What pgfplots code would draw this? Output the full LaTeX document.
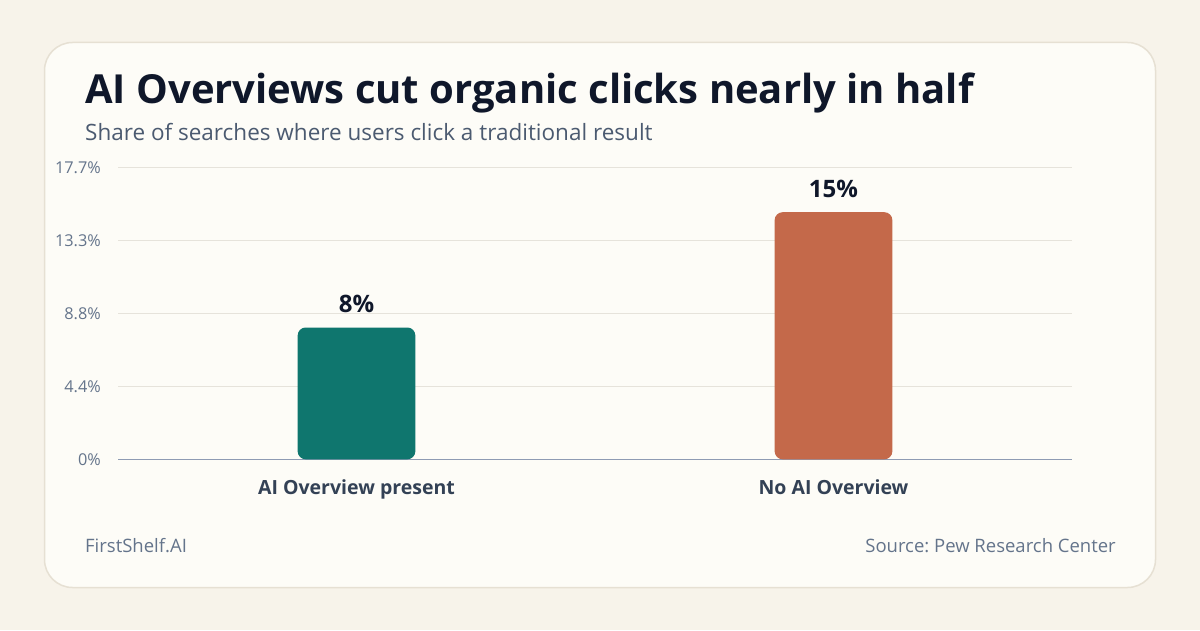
\documentclass[border=0pt]{standalone}
\usepackage{fontspec}
\setmainfont{Open Sans}
\usepackage{pgfplots}
\pgfplotsset{compat=1.18}
\frenchspacing
\definecolor{bg}{HTML}{F7F3EA}
\definecolor{card}{HTML}{FDFCF7}
\definecolor{cardborder}{HTML}{E6E0D3}
\definecolor{gridc}{HTML}{E6E3DB}
\definecolor{basec}{HTML}{8E9BB3}
\definecolor{ticktext}{HTML}{64748B}
\definecolor{titletext}{HTML}{0F172A}
\definecolor{subtext}{HTML}{4B5A70}
\definecolor{cattext}{HTML}{334155}
\definecolor{tealbar}{HTML}{0F766E}
\definecolor{rustbar}{HTML}{C4694A}
\begin{document}
\begin{tikzpicture}[x=1pt,y=1pt]
\fill[bg] (0,0) rectangle (1200,630);
\filldraw[fill=card, draw=cardborder, line width=1.5pt, rounded corners=28pt] (44.5,587.5) rectangle (1155.5,42.5);
\node[anchor=base west, inner sep=0, text=titletext, font=\bfseries\fontsize{40}{46}\selectfont] at (85,526) {AI Overviews cut organic clicks nearly in half};
\node[anchor=base west, inner sep=0, text=subtext, font=\fontsize{22.5}{26}\selectfont] at (85,489) {Share of searches where users click a traditional result};
\node[anchor=base west, inner sep=0, text=ticktext, font=\fontsize{18.5}{22}\selectfont] at (85,77.5) {FirstShelf.AI};
\node[anchor=base east, inner sep=0, text=ticktext, font=\fontsize{18.5}{22}\selectfont] at (1116,77.5) {Source: Pew Research Center};
\begin{axis}[
  at={(118pt,170.7pt)}, anchor=south west,
  width=954pt, height=291.6pt, scale only axis,
  xmin=-0.5, xmax=1.5, ymin=0, ymax=17.7,
  axis lines=left,
  axis line style={-},
  y axis line style={draw=none},
  x axis line style={draw=basec, line width=1.5pt},
  major tick length=0pt,
  ytick={0,4.425,8.85,13.275,17.7},
  yticklabels={0\%,4.4\%,8.8\%,13.3\%,17.7\%},
  xtick={0,1},
  xticklabels={AI Overview present, No AI Overview},
  ymajorgrids,
  grid style={draw=gridc, line width=1.5pt},
  yticklabel style={text=ticktext, font=\fontsize{16.3}{19}\selectfont, inner sep=0pt, anchor=east, xshift=-17pt},
  xticklabel style={text=cattext, font=\bfseries\fontsize{19.5}{23}\selectfont, inner sep=0pt, anchor=north, yshift=-20pt},
  ybar, bar width=117.7pt, bar shift=0pt,
  /pgf/number format/assume math mode=true,
  nodes near coords={\pgfmathprintnumber{\pgfplotspointmeta}\%},
  nodes near coords style={text=titletext, font=\bfseries\fontsize{24}{28}\selectfont, inner sep=0pt, anchor=south, yshift=14.5pt},
  clip=false,
]
\addplot[fill=tealbar, draw=none, rounded corners=8pt] coordinates {(0,8)};
\addplot[fill=rustbar, draw=none, rounded corners=8pt] coordinates {(1,15)};
\end{axis}
\end{tikzpicture}
\end{document}
